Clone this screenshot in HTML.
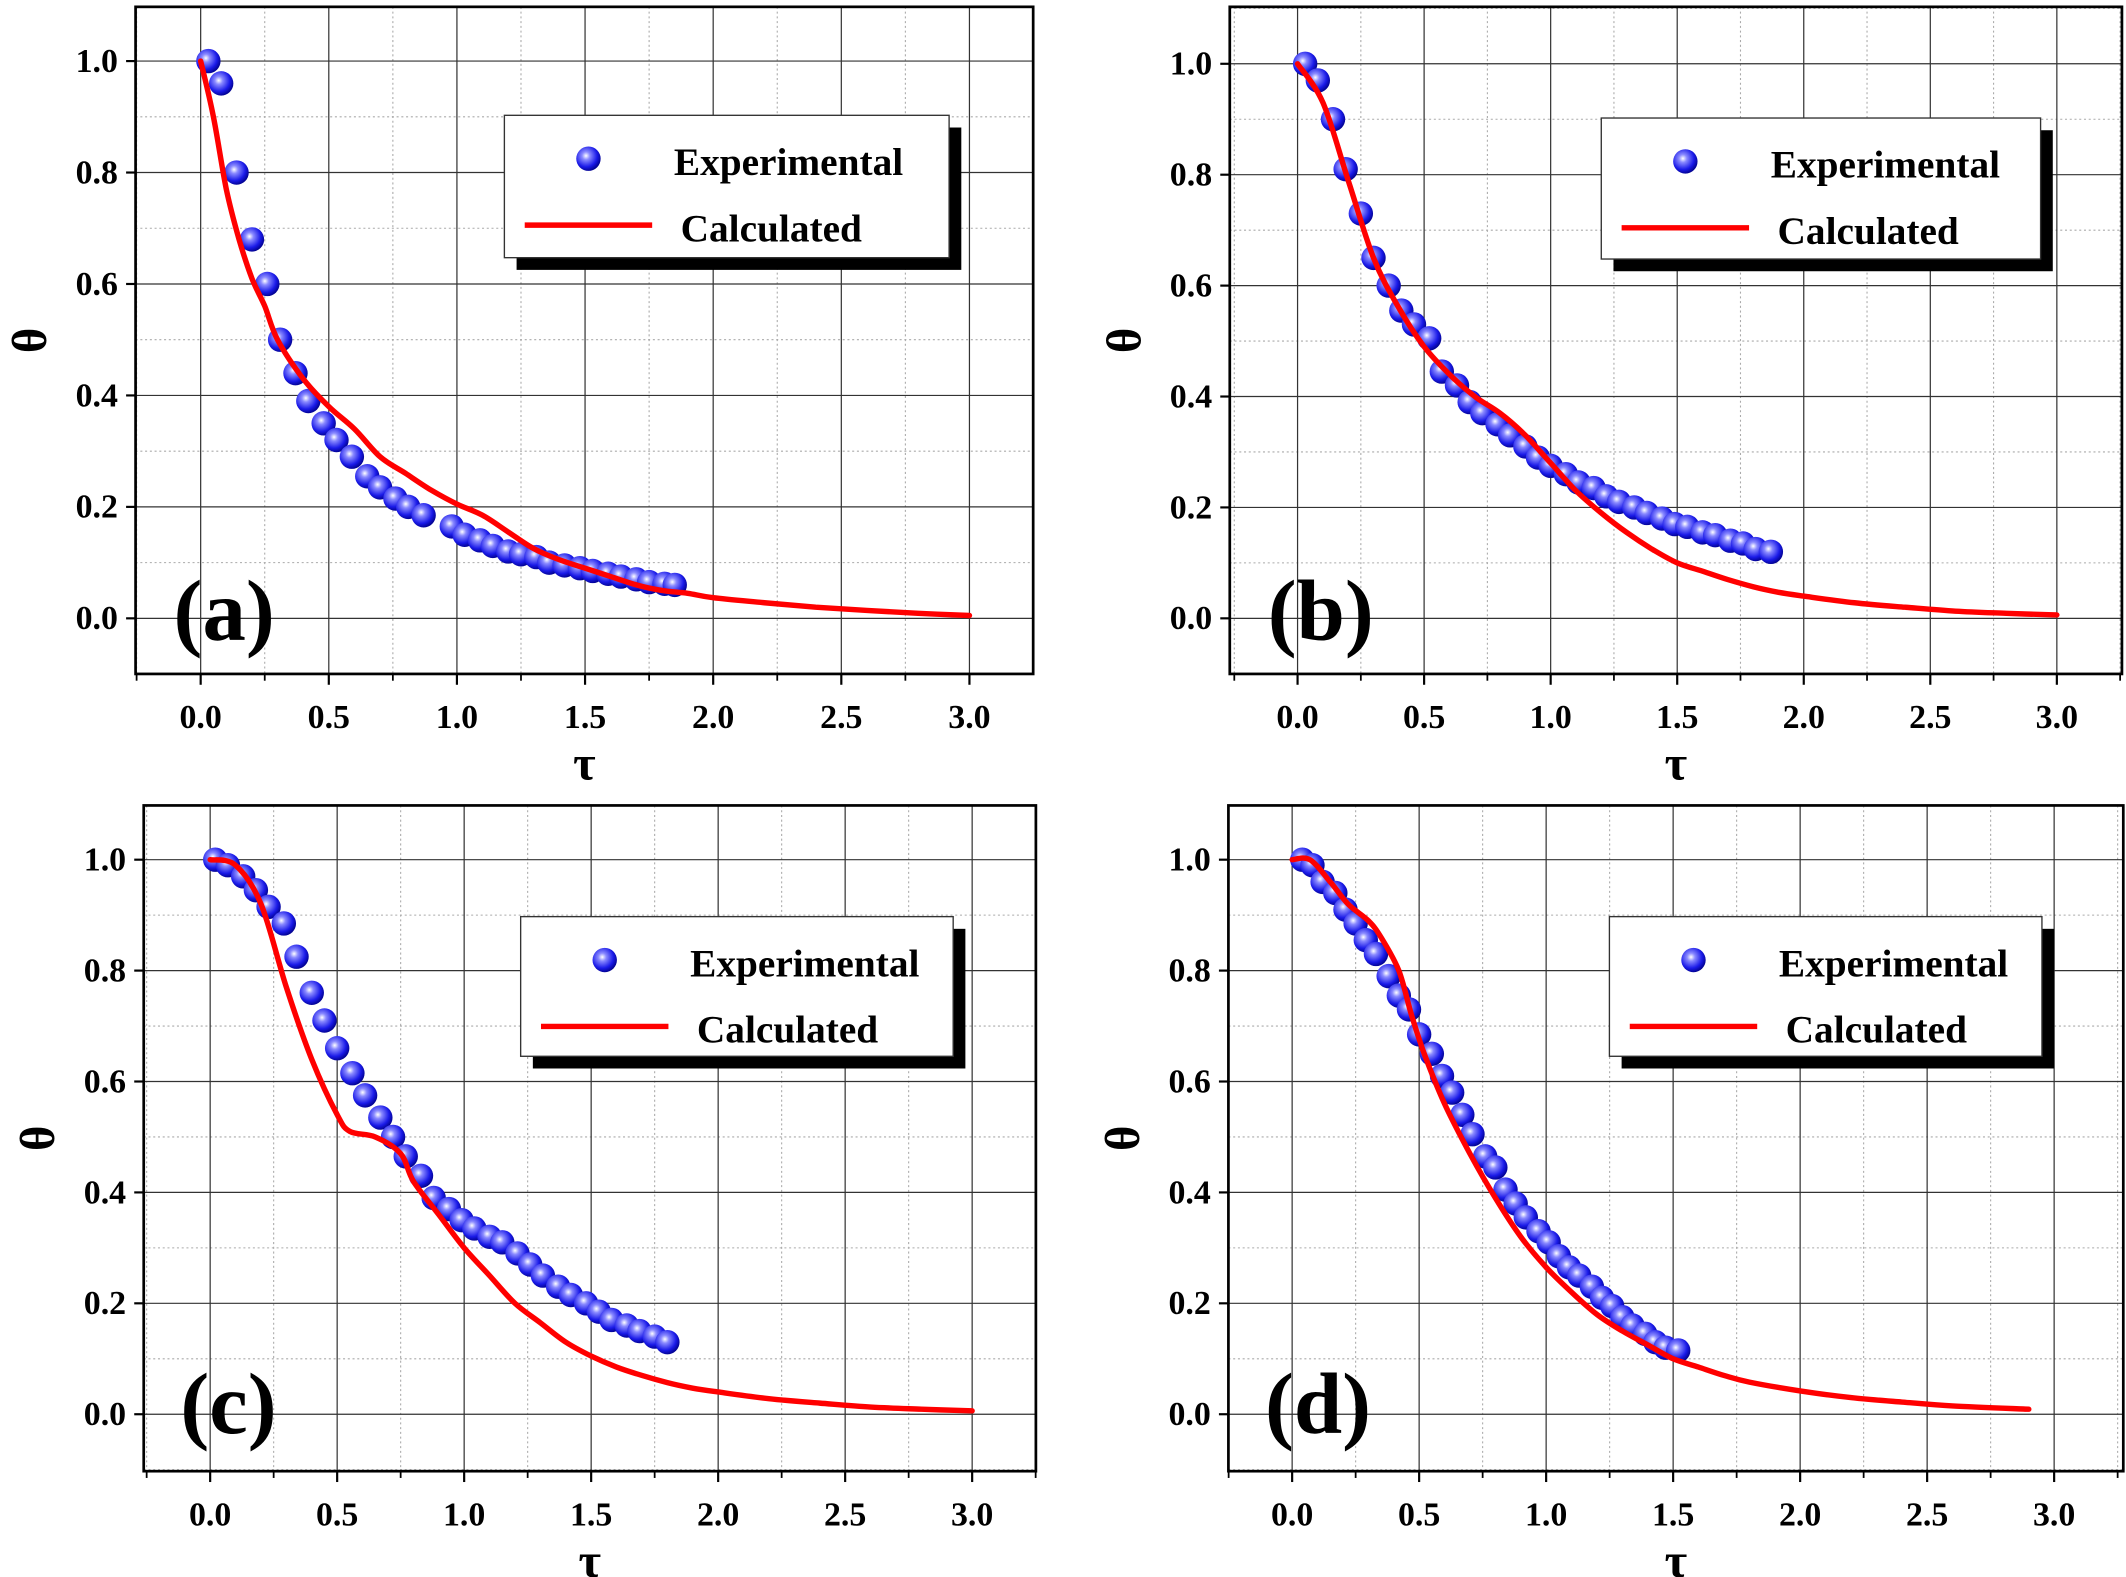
<!DOCTYPE html>
<html><head><meta charset="utf-8">
<style>
html,body{margin:0;padding:0;background:#fff;}
svg{display:block;}
text{font-family:"Liberation Serif",serif;font-weight:bold;fill:#000;}
</style></head>
<body>
<svg id="fig" width="2126" height="1577" viewBox="0 0 1568 1163" xmlns="http://www.w3.org/2000/svg">
<defs>
<radialGradient id="ball" cx="0.4" cy="0.38" r="0.65">
<stop offset="0" stop-color="#ffffff"/>
<stop offset="0.25" stop-color="#8a8aff"/>
<stop offset="0.7" stop-color="#1a1ae8"/>
<stop offset="1" stop-color="#00008a"/>
</radialGradient>
</defs>
</svg>
<script>
// ---- data ----
const expTauA = [0.03,0.08,0.14,0.2,0.26,0.31,0.37,0.42,0.48,0.53,0.59,0.65,0.7,0.76,0.81,0.87,0.98,1.03,1.09,1.14,1.2,1.25,1.31,1.36,1.42,1.48,1.53,1.59,1.64,1.7,1.75,1.81,1.85];
const expThA = [1.0,0.96,0.80,0.68,0.60,0.50,0.44,0.39,0.35,0.32,0.29,0.255,0.235,0.215,0.2,0.185,0.165,0.15,0.14,0.13,0.12,0.115,0.11,0.1,0.095,0.09,0.085,0.08,0.075,0.07,0.065,0.062,0.06];
const calTauA = [0,0.05,0.1,0.15,0.2,0.25,0.3,0.4,0.5,0.6,0.7,0.8,0.9,1.0,1.1,1.2,1.3,1.4,1.5,1.6,1.7,1.8,1.9,2.0,2.2,2.4,2.6,2.8,3.0];
const calThA = [1,0.9,0.77,0.68,0.61,0.56,0.5,0.43,0.38,0.34,0.29,0.26,0.23,0.205,0.185,0.155,0.125,0.105,0.09,0.075,0.06,0.05,0.045,0.037,0.028,0.02,0.014,0.009,0.005];

const expTauB = [0.03,0.08,0.14,0.19,0.25,0.3,0.36,0.41,0.46,0.52,0.57,0.63,0.68,0.73,0.79,0.84,0.9,0.95,1.0,1.06,1.11,1.17,1.22,1.27,1.33,1.38,1.44,1.49,1.54,1.6,1.65,1.71,1.76,1.81,1.87];
const expThB = [1.0,0.97,0.9,0.81,0.73,0.65,0.6,0.555,0.53,0.505,0.445,0.42,0.39,0.37,0.35,0.33,0.31,0.29,0.275,0.26,0.245,0.235,0.22,0.21,0.2,0.19,0.18,0.17,0.165,0.155,0.15,0.14,0.135,0.125,0.12];
const calTauB = [0,0.1,0.2,0.3,0.4,0.5,0.6,0.7,0.8,0.9,1.0,1.1,1.2,1.3,1.4,1.5,1.6,1.7,1.8,1.9,2.0,2.2,2.4,2.6,2.8,3.0];
const calThB = [1,0.93,0.79,0.65,0.56,0.49,0.44,0.4,0.37,0.33,0.28,0.23,0.19,0.155,0.125,0.1,0.085,0.07,0.057,0.047,0.04,0.028,0.02,0.013,0.009,0.006];

const expTauC = [0.02,0.07,0.13,0.18,0.23,0.29,0.34,0.4,0.45,0.5,0.56,0.61,0.67,0.72,0.77,0.83,0.88,0.94,0.99,1.04,1.1,1.15,1.21,1.26,1.31,1.37,1.42,1.48,1.53,1.58,1.64,1.69,1.75,1.8];
const expThC = [1.0,0.99,0.97,0.945,0.915,0.885,0.825,0.76,0.71,0.66,0.615,0.575,0.535,0.5,0.465,0.43,0.39,0.37,0.35,0.335,0.32,0.31,0.29,0.27,0.25,0.23,0.215,0.2,0.185,0.17,0.16,0.15,0.14,0.13];
const calTauC = [0,0.1,0.2,0.3,0.4,0.5,0.55,0.65,0.75,0.8,0.9,1.0,1.1,1.2,1.3,1.4,1.5,1.6,1.7,1.8,1.9,2.0,2.2,2.4,2.6,2.8,3.0];
const calThC = [1,0.99,0.92,0.77,0.64,0.54,0.51,0.5,0.47,0.42,0.36,0.3,0.25,0.2,0.165,0.13,0.105,0.085,0.07,0.057,0.047,0.04,0.028,0.02,0.013,0.009,0.006];

const expTauD = [0.04,0.08,0.12,0.17,0.21,0.25,0.29,0.33,0.38,0.42,0.46,0.5,0.55,0.59,0.63,0.67,0.71,0.76,0.8,0.84,0.88,0.92,0.97,1.01,1.05,1.09,1.13,1.18,1.22,1.26,1.3,1.34,1.39,1.43,1.47,1.52];
const expThD = [1.0,0.99,0.96,0.94,0.91,0.885,0.855,0.83,0.79,0.755,0.73,0.685,0.65,0.61,0.58,0.54,0.505,0.465,0.445,0.405,0.38,0.355,0.33,0.31,0.285,0.265,0.25,0.23,0.21,0.195,0.175,0.16,0.145,0.13,0.12,0.115];
const calTauD = [0,0.07,0.15,0.22,0.3,0.35,0.42,0.47,0.52,0.6,0.7,0.8,0.9,1.0,1.1,1.2,1.3,1.4,1.5,1.6,1.7,1.8,2.0,2.2,2.4,2.6,2.9];
const calThD = [1,1.0,0.96,0.92,0.89,0.86,0.8,0.72,0.65,0.56,0.47,0.39,0.32,0.265,0.22,0.18,0.15,0.125,0.1,0.085,0.07,0.058,0.042,0.03,0.022,0.015,0.009];

const xTicks = ["0.0","0.5","1.0","1.5","2.0","2.5","3.0"];
const yTicks = ["0.0","0.2","0.4","0.6","0.8","1.0"];

const NS = "http://www.w3.org/2000/svg";
const svg = document.getElementById('fig');
function mk(tag, attrs, parent){
  const e = document.createElementNS(NS, tag);
  for (const k in attrs) e.setAttribute(k, attrs[k]);
  (parent||svg).appendChild(e);
  return e;
}
function smooth(pts){
  let d = 'M' + pts[0][0].toFixed(1) + ',' + pts[0][1].toFixed(1);
  for (let i = 0; i < pts.length - 1; i++) {
    const p0 = pts[Math.max(0, i-1)], p1 = pts[i], p2 = pts[i+1], p3 = pts[Math.min(pts.length-1, i+2)];
    const c1x = p1[0] + (p2[0]-p0[0])/6, c1y = p1[1] + (p2[1]-p0[1])/6;
    const c2x = p2[0] - (p3[0]-p1[0])/6, c2y = p2[1] - (p3[1]-p1[1])/6;
    d += 'C' + c1x.toFixed(1) + ',' + c1y.toFixed(1) + ' ' + c2x.toFixed(1) + ',' + c2y.toFixed(1) + ' ' + p2[0].toFixed(1) + ',' + p2[1].toFixed(1);
  }
  return d;
}

const panels = [
  {id:'a', L:100, R:762, T:5, B:497, x0:148, x3:715, y1:45, y0:456, exT:expTauA, exY:expThA, caT:calTauA, caY:calThA, leg:[372,85,700,190], lab:[128,472]},
  {id:'b', L:907, R:1565, T:5, B:497, x0:957, x3:1517, y1:47, y0:456, exT:expTauB, exY:expThB, caT:calTauB, caY:calThB, leg:[1181,87,1505,191], lab:[935,472]},
  {id:'c', L:106, R:764, T:594, B:1085, x0:155, x3:717, y1:634, y0:1043, exT:expTauC, exY:expThC, caT:calTauC, caY:calThC, leg:[384,676,703,779], lab:[133,1057]},
  {id:'d', L:906, R:1566, T:594, B:1085, x0:953, x3:1515, y1:634, y0:1043, exT:expTauD, exY:expThD, caT:calTauD, caY:calThD, leg:[1187,676,1506,779], lab:[933,1057]}
];

panels.forEach(p => {
  const g = mk('g', {});
  
  
  const sx = v => p.x0 + v * (p.x3 - p.x0) / 3;
  const sy = v => p.y0 - v * (p.y0 - p.y1);
  for (let i = -1; i <= 13; i++) {
    const v = i * 0.25; if (i % 2 === 0) continue;
    const x = sx(v); if (x <= p.L || x >= p.R) continue;
    mk('line', {x1:x, x2:x, y1:p.T, y2:p.B, stroke:'#aaa', 'stroke-width':0.8, 'stroke-dasharray':'1.5,2'}, g);
  }
  for (let i = -1; i <= 11; i++) {
    const v = i * 0.1; if (i % 2 === 0) continue;
    const y = sy(v); if (y <= p.T || y >= p.B) continue;
    mk('line', {x1:p.L, x2:p.R, y1:y, y2:y, stroke:'#aaa', 'stroke-width':0.8, 'stroke-dasharray':'1.5,2'}, g);
  }
  xTicks.forEach(t => {
    const x = sx(parseFloat(t));
    const gl = mk('line', {x1:x, x2:x, y1:p.T, y2:p.B, stroke:'#333', 'stroke-width':0.9}, g);
    
    
    mk('line', {x1:x, x2:x, y1:p.B, y2:p.B+8, stroke:'#000', 'stroke-width':1.6}, g);
    const tx = mk('text', {x:x, y:p.B+40, 'font-size':25, 'text-anchor':'middle'}, g);
    tx.textContent = t;
    
    
  });
  for (let i = -1; i <= 13; i += 2) {
    const x = sx(i * 0.25); if (x <= p.L || x >= p.R) continue;
    mk('line', {x1:x, x2:x, y1:p.B, y2:p.B+5, stroke:'#000', 'stroke-width':1.3}, g);
  }
  yTicks.forEach(t => {
    const y = sy(parseFloat(t));
    const gl = mk('line', {x1:p.L, x2:p.R, y1:y, y2:y, stroke:'#333', 'stroke-width':0.9}, g);
    
    
    mk('line', {x1:p.L-7, x2:p.L, y1:y, y2:y, stroke:'#000', 'stroke-width':1.6}, g);
    const tx = mk('text', {x:p.L-13, y:y+8, 'font-size':25, 'text-anchor':'end'}, g);
    tx.textContent = t;
    
    
  });
  const fr = mk('rect', {x:p.L, y:p.T, width:p.R-p.L, height:p.B-p.T, fill:'none', stroke:'#000', 'stroke-width':2}, g);
  
  
  const xt = mk('text', {x:(p.L+p.R)/2, y:p.B+78, 'font-size':36, 'text-anchor':'middle'}, g);
  xt.textContent = 'τ';
  
  
  const yc = (p.T + p.B) / 2;
  const yt = mk('text', {x:0, y:0, 'font-size':36, 'text-anchor':'middle'}, g);
  yt.setAttribute('transform', 'translate(' + (p.L - 66) + ',' + yc + ') rotate(-90)');
  yt.textContent = 'θ';
  
  
  const lb = mk('text', {x:p.lab[0], y:p.lab[1], 'font-size':64}, g);
  lb.textContent = '(' + p.id + ')';
  
  
  p.exT.forEach((t, i) => {
    const c = mk('circle', {cx:sx(t), cy:sy(p.exY[i]), r:9, fill:'url(#ball)'}, g);
    
    
  });
  const pts = p.caT.map((t, i) => [sx(t), sy(p.caY[i])]);
  const ln = mk('path', {d:smooth(pts), fill:'none', stroke:'#f00', 'stroke-width':4, 'stroke-linejoin':'round', 'stroke-linecap':'round'}, g);
  
  
  const [lx1, ly1, lx2, ly2] = p.leg;
  const lg = mk('g', {}, g);
  
  
  mk('rect', {x:lx1+9, y:ly1+9, width:lx2-lx1, height:ly2-ly1, fill:'#000'}, lg);
  mk('rect', {x:lx1, y:ly1, width:lx2-lx1, height:ly2-ly1, fill:'#fff', stroke:'#333', 'stroke-width':1}, lg);
  const mcx = lx1 + 62, r1 = ly1 + 32, r2 = ly1 + 81;
  const lm = mk('circle', {cx:mcx, cy:r1, r:9, fill:'url(#ball)'}, lg);
  
  
  const t1 = mk('text', {x:lx1+125, y:r1+12, 'font-size':29}, lg);
  t1.textContent = 'Experimental';
  
  
  const ll = mk('line', {x1:lx1+15, x2:lx1+109, y1:r2, y2:r2, stroke:'#f00', 'stroke-width':4}, lg);
  
  
  const t2 = mk('text', {x:lx1+130, y:r2+12, 'font-size':29}, lg);
  t2.textContent = 'Calculated';
  
  
});
</script>
</body></html>
